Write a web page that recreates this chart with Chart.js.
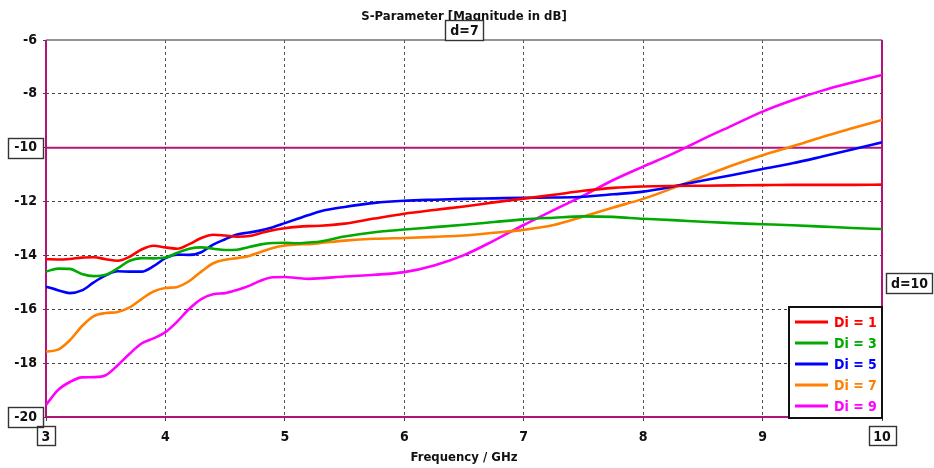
<!DOCTYPE html>
<html><head><meta charset="utf-8">
<script src="https://cdn.jsdelivr.net/npm/chart.js@4.4.1/dist/chart.umd.min.js"></script>
<style>html,body{margin:0;padding:0;background:#fff}#wrap{width:934px;height:468px}</style>
</head><body><div id="wrap"><canvas id="c" width="934" height="468"></canvas></div>
<script>
const freq = [3.0,3.1,3.2,3.3,3.4,3.5,3.6,3.7,3.8,3.9,4.0,4.1,4.2,4.3,4.4,4.5,4.6,4.7,4.8,4.9,5.0,5.1,5.2,5.3,
  5.5,5.75,6.0,6.25,6.5,6.75,7.0,7.25,7.5,7.75,8.0,8.25,8.5,8.75,9.0,9.25,9.5,9.75,10.0];
const di1 = [-14.14,-14.15,-14.13,-14.08,-14.07,-14.14,-14.2,-14.05,-13.78,-13.64,-13.7,-13.75,-13.58,-13.35,-13.23,-13.26,-13.3,-13.28,-13.17,-13.06,-12.99,-12.94,-12.91,-12.9,
  -12.82,-12.63,-12.45,-12.31,-12.18,-12.03,-11.89,-11.75,-11.6,-11.49,-11.44,-11.42,-11.41,-11.4,-11.39,-11.38,-11.38,-11.38,-11.37];
const di3 = [-14.6,-14.49,-14.5,-14.69,-14.77,-14.72,-14.48,-14.2,-14.1,-14.11,-14.08,-13.9,-13.75,-13.7,-13.75,-13.8,-13.79,-13.69,-13.59,-13.54,-13.53,-13.55,-13.52,-13.48,
  -13.3,-13.14,-13.04,-12.95,-12.86,-12.76,-12.66,-12.6,-12.55,-12.57,-12.64,-12.69,-12.75,-12.8,-12.84,-12.88,-12.93,-12.98,-13.02];
const di5 = [-15.16,-15.29,-15.4,-15.3,-15.0,-14.74,-14.59,-14.6,-14.6,-14.4,-14.1,-13.97,-13.98,-13.88,-13.6,-13.4,-13.22,-13.15,-13.07,-12.95,-12.8,-12.65,-12.5,-12.36,
  -12.2,-12.05,-11.97,-11.93,-11.9,-11.88,-11.86,-11.85,-11.82,-11.73,-11.63,-11.44,-11.22,-11.01,-10.79,-10.58,-10.33,-10.07,-9.8];
const di7 = [-17.57,-17.5,-17.15,-16.63,-16.25,-16.14,-16.1,-15.93,-15.62,-15.34,-15.21,-15.17,-14.95,-14.6,-14.29,-14.16,-14.1,-14.02,-13.87,-13.72,-13.63,-13.59,-13.58,-13.54,
  -13.45,-13.38,-13.35,-13.31,-13.26,-13.16,-13.05,-12.87,-12.55,-12.22,-11.9,-11.5,-11.07,-10.65,-10.28,-9.95,-9.6,-9.28,-8.97];
const di9 = [-19.55,-19.0,-18.7,-18.53,-18.52,-18.45,-18.08,-17.65,-17.27,-17.08,-16.85,-16.45,-15.98,-15.62,-15.44,-15.4,-15.28,-15.13,-14.93,-14.81,-14.8,-14.84,-14.87,-14.85,
  -14.78,-14.72,-14.62,-14.37,-13.99,-13.45,-12.87,-12.32,-11.78,-11.2,-10.7,-10.22,-9.68,-9.17,-8.66,-8.24,-7.88,-7.58,-7.3];
const seriesLabels = ['Di = 1','Di = 3','Di = 5','Di = 7','Di = 9'];
const seriesColors = ['#ff0000','#00aa00','#0000ff','#ff8000','#ff00ff'];
const xTicks = [3,4,5,6,7,8,9,10];
const yTicks = [-20,-18,-16,-14,-12,-10,-8,-6];
const boxedX = [3,10];
const boxedY = [-10,-20];
const chartTitle = 'S-Parameter [Magnitude in dB]';
const xTitle = 'Frequency / GHz';
const markerLabels = ['d=7','d=10'];

const FONT = "'DejaVu Sans Condensed','DejaVu Sans',sans-serif";
const MAG = '#b01478';
const series = [di1,di3,di5,di7,di9];

const datasets = series.map((s,i)=>({
  label: seriesLabels[i],
  data: freq.map((f,k)=>({x:f,y:s[k]})),
  borderColor: seriesColors[i],
  backgroundColor: seriesColors[i],
  borderWidth: 2.6,
  pointRadius: 0,
  cubicInterpolationMode: 'monotone',
  fill: false
}));

function line(ctx,x1,y1,x2,y2){ctx.beginPath();ctx.moveTo(x1,y1);ctx.lineTo(x2,y2);ctx.stroke();}

const deco = {
  id:'deco',
  beforeDatasetsDraw(chart){
    const {ctx, chartArea:a, scales:{x,y}} = chart;
    ctx.save();
    ctx.strokeStyle = '#707070'; ctx.lineWidth = 1.5;
    line(ctx,a.left,a.top,a.right,a.top);
    ctx.strokeStyle = MAG; ctx.lineWidth = 2;
    line(ctx,a.left,a.top,a.left,a.bottom);
    line(ctx,a.right,a.top,a.right,a.bottom);
    line(ctx,a.left,a.bottom,a.right,a.bottom);
    const y10 = y.getPixelForValue(-10);
    line(ctx,a.left,y10,a.right,y10);
    ctx.restore();
  },
  afterDraw(chart){
    const {ctx, chartArea:a, scales:{x,y}} = chart;
    ctx.save();
    ctx.fillStyle = '#111';
    ctx.font = "bold 13px " + FONT;
    ctx.textAlign = 'center'; ctx.textBaseline = 'middle';
    ctx.fillText(chartTitle, 464, 17);
    ctx.font = "bold 14px " + FONT;
    ctx.strokeStyle = '#333'; ctx.lineWidth = 1.4;
    boxedX.forEach(v=>{
      const px = x.getPixelForValue(v);
      const w = ctx.measureText(String(v)).width + 9;
      ctx.strokeRect(Math.round(px - w/2)+0.5, 426.5, Math.round(w), 19);
    });
    boxedY.forEach(v=>{
      const py = y.getPixelForValue(v);
      ctx.strokeRect(8.5, Math.round(py-10)+0.5, 35, 20);
    });
    const drawBox = (txt, x0, y0, w, h) => {
      ctx.fillStyle = '#fff'; ctx.fillRect(x0,y0,w,h);
      ctx.strokeStyle = '#333'; ctx.lineWidth = 1.4; ctx.strokeRect(x0+0.5,y0+0.5,w,h);
      ctx.fillStyle = '#111'; ctx.textAlign='center'; ctx.textBaseline='middle';
      ctx.fillText(txt, x0+w/2+0.5, y0+h/2+1);
    };
    drawBox(markerLabels[0], 445, 20, 38, 20);
    drawBox(markerLabels[1], 886, 273, 46, 20);
    const lx = 789, ly = 307, lw = 93, lh = 111;
    ctx.fillStyle = '#fff'; ctx.fillRect(lx,ly,lw,lh);
    ctx.strokeStyle = '#111'; ctx.lineWidth = 2; ctx.strokeRect(lx,ly,lw,lh);
    ctx.font = "bold 14px " + FONT;
    ctx.textAlign = 'left'; ctx.textBaseline = 'middle';
    chart.data.datasets.forEach((d,i)=>{
      const cy = 322 + i*21;
      ctx.strokeStyle = d.borderColor; ctx.lineWidth = 3;
      line(ctx, 795, cy, 828, cy);
      ctx.fillStyle = d.borderColor;
      ctx.fillText(d.label, 834, cy+1);
    });
    ctx.restore();
  }
};

new Chart(document.getElementById('c'), {
  type: 'line',
  data: { datasets },
  options: {
    responsive: false,
    animation: false,
    layout: { padding: { top: 40, right: 52, left: 0, bottom: 0 } },
    plugins: { legend: { display: false }, tooltip: { enabled: false }, title: { display: false } },
    scales: {
      x: {
        type: 'linear', min: 3, max: 10,
        afterBuildTicks: s => { s.ticks = xTicks.map(v=>({value:v})); },
        afterFit: s => { s.height = 51; },
        grid: { color: c => (c.tick && (c.tick.value===3 || c.tick.value===10)) ? 'rgba(0,0,0,0)' : '#555',
                lineWidth: 1, drawTicks: true, tickLength: 4, tickColor: '#444' },
        border: { display: false, dash: [3,3] },
        ticks: { color: '#111', font: { family: FONT, size: 14, weight: 'bold' }, padding: 8, maxRotation: 0 },
        title: { display: true, text: xTitle, color: '#111', font: { family: FONT, size: 13, weight: 'bold' }, padding: { top: 0, bottom: 3 } }
      },
      y: {
        type: 'linear', min: -20, max: -6,
        afterBuildTicks: s => { s.ticks = yTicks.map(v=>({value:v})); },
        afterFit: s => { s.width = 46; },
        grid: { color: c => (c.tick && (c.tick.value===-6 || c.tick.value===-10 || c.tick.value===-20)) ? 'rgba(0,0,0,0)' : '#444',
                lineWidth: 1, drawTicks: true, tickLength: 3, tickColor: '#444' },
        border: { display: false, dash: [3,3] },
        ticks: { color: '#111', font: { family: FONT, size: 14, weight: 'bold' }, padding: 6 }
      }
    }
  },
  plugins: [deco]
});
</script>
</body></html>
